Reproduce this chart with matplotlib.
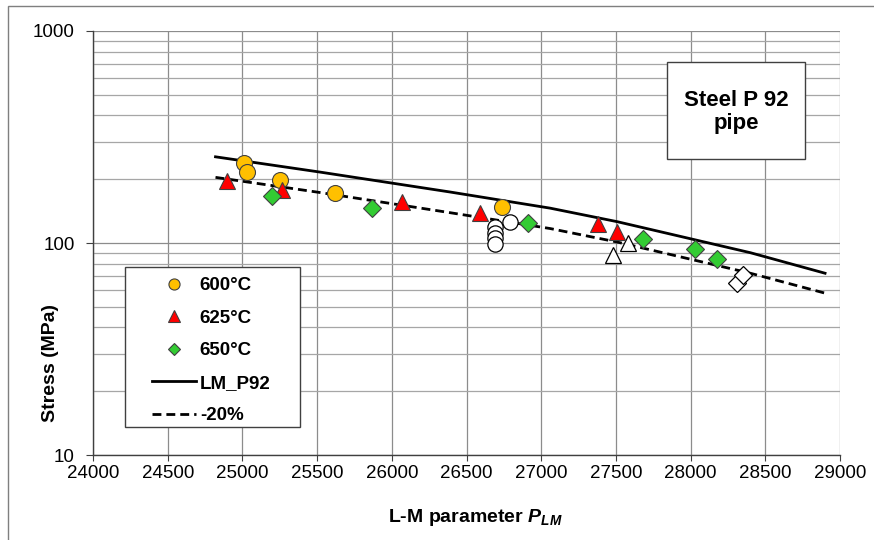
import numpy as np
import matplotlib
matplotlib.use("Agg")
import matplotlib.pyplot as plt
from matplotlib.lines import Line2D
from matplotlib.patches import Rectangle

plt.rcParams['font.family'] = ['Liberation Sans', 'DejaVu Sans']
plt.rcParams['mathtext.fontset'] = 'custom'
plt.rcParams['mathtext.it'] = 'Liberation Sans:bold:italic'
plt.rcParams['mathtext.rm'] = 'Liberation Sans:bold'

# data
p600 = [25010, 25030, 25250, 25620, 26740]
s600 = [238, 216, 198, 172, 148]
p625 = [24900, 25265, 26070, 26590, 27380, 27510]
s625 = [196, 178, 156, 139, 123, 113]
p650 = [25200, 25870, 26910, 27680, 28030, 28180]
s650 = [167, 146, 124, 104, 94, 84]

# open symbols (no legend entry)
p_open_c = [26790, 26690, 26690, 26690, 26690]
s_open_c = [126, 119, 111, 106, 99]
p_open_t = [27480, 27580]
s_open_t = [88, 100]
p_open_d = [28310, 28350]
s_open_d = [65, 71]

# LM_P92 master curve and -20% curve
p_lm = [24820, 25520, 26390, 27060, 27510, 28400, 28900]
s_lm = [255, 216, 174, 146, 126, 90, 72]
s_m20 = [204, 173, 139, 117, 101, 72, 58]

fig = plt.figure(figsize=(8.74, 5.4), dpi=100)
ax = fig.add_axes([93/874, 85/540, 747/874, 424/540])

# figure border
fig.patches.append(Rectangle((8/874, -0.1), 1.2, (540-6)/540 + 0.1, transform=fig.transFigure,
                             fill=False, edgecolor='#7f7f7f', lw=1.0))

ax.set_yscale('log')
ax.set_xlim(24000, 29000)
ax.set_ylim(10, 1000)
ax.set_xticks(range(24000, 29001, 500))
ax.set_yticks([10, 100, 1000])
ax.set_yticklabels(['10', '100', '1000'])
ax.yaxis.set_minor_locator(matplotlib.ticker.LogLocator(base=10, subs=np.arange(2, 10)))
ax.yaxis.set_minor_formatter(matplotlib.ticker.NullFormatter())
ax.tick_params(axis='y', which='minor', length=0)
ax.tick_params(axis='y', which='major', length=5, pad=8, labelsize=13.5, color='#404040')
ax.tick_params(axis='x', which='major', length=4, pad=3, labelsize=13.5, color='#404040')

ax.grid(True, which='major', color='#8c8c8c', lw=0.9)
ax.grid(True, which='minor', axis='y', color='#a6a6a6', lw=0.9)
ax.set_axisbelow(True)
for s in ['top', 'right']:
    ax.spines[s].set_visible(False)
for s in ['left', 'bottom']:
    ax.spines[s].set_color('#404040')
    ax.spines[s].set_linewidth(1.0)

ax.plot(p_lm, s_lm, color='black', lw=2.0, zorder=3)
ax.plot(p_lm, s_m20, color='black', lw=2.0, ls=(0, (3.2, 1.8)), zorder=3)

ax.plot(p_open_c, s_open_c, 'o', ms=11, mfc='white', mec='black', mew=0.9, ls='none', zorder=4)
ax.plot(p_open_t, s_open_t, '^', ms=12, mfc='white', mec='black', mew=0.9, ls='none', zorder=4)
ax.plot(p_open_d, s_open_d, 'D', ms=9, mfc='white', mec='black', mew=0.9, ls='none', zorder=4)

ax.plot(p600, s600, 'o', ms=11.5, mfc='#FFC000', mec='#404040', mew=0.8, ls='none', zorder=5)
ax.plot(p625, s625, '^', ms=11.5, mfc='#FF0000', mec='#404040', mew=0.8, ls='none', zorder=5)
ax.plot(p650, s650, 'D', ms=9, mfc='#33CC33', mec='#404040', mew=0.8, ls='none', zorder=5)

# legend with separate frame
ax.add_patch(Rectangle((32/747, 28/424), 175/747, 160/424, transform=ax.transAxes,
                       facecolor='white', edgecolor='#404040', lw=1.0, zorder=6))
handles = [
    Line2D([], [], marker='o', ms=8, mfc='#FFC000', mec='#404040', mew=0.8, ls='none'),
    Line2D([], [], marker='^', ms=8, mfc='#FF0000', mec='#404040', mew=0.8, ls='none'),
    Line2D([], [], marker='D', ms=6.5, mfc='#33CC33', mec='#404040', mew=0.8, ls='none'),
    Line2D([], [], color='black', lw=2.0),
    Line2D([], [], color='black', lw=2.0, ls=(0, (3.2, 1.8))),
]
labels = ['600°C', '625°C', '650°C', 'LM_P92', '-20%']
leg = ax.legend(handles, labels, loc='upper left', bbox_to_anchor=(59/747, (455-277)/424),
                frameon=False, borderpad=0, borderaxespad=0, handlelength=2.35,
                handletextpad=0.2, labelspacing=0.82,
                prop={'size': 13.5, 'weight': 'bold'})
leg.set_zorder(7)

# annotation box
ax.add_patch(Rectangle((574/747, 296/424), 138/747, 97/424, transform=ax.transAxes,
                       facecolor='white', edgecolor='#404040', lw=1.0, zorder=6))
ax.text(643/747, (455-112)/424, 'Steel P 92\npipe', transform=ax.transAxes, ha='center',
        va='center', fontsize=16, fontweight='bold', linespacing=1.13, zorder=7)

ax.set_ylabel('Stress (MPa)', fontsize=14, fontweight='bold')
ax.yaxis.set_label_coords(-34/747, 92/424)
ax.set_xlabel(r'L-M parameter $P_{LM}$', fontsize=14, fontweight='bold')
ax.xaxis.set_label_coords(382/747, -52/424)

plt.savefig('out.png', dpi=100)
